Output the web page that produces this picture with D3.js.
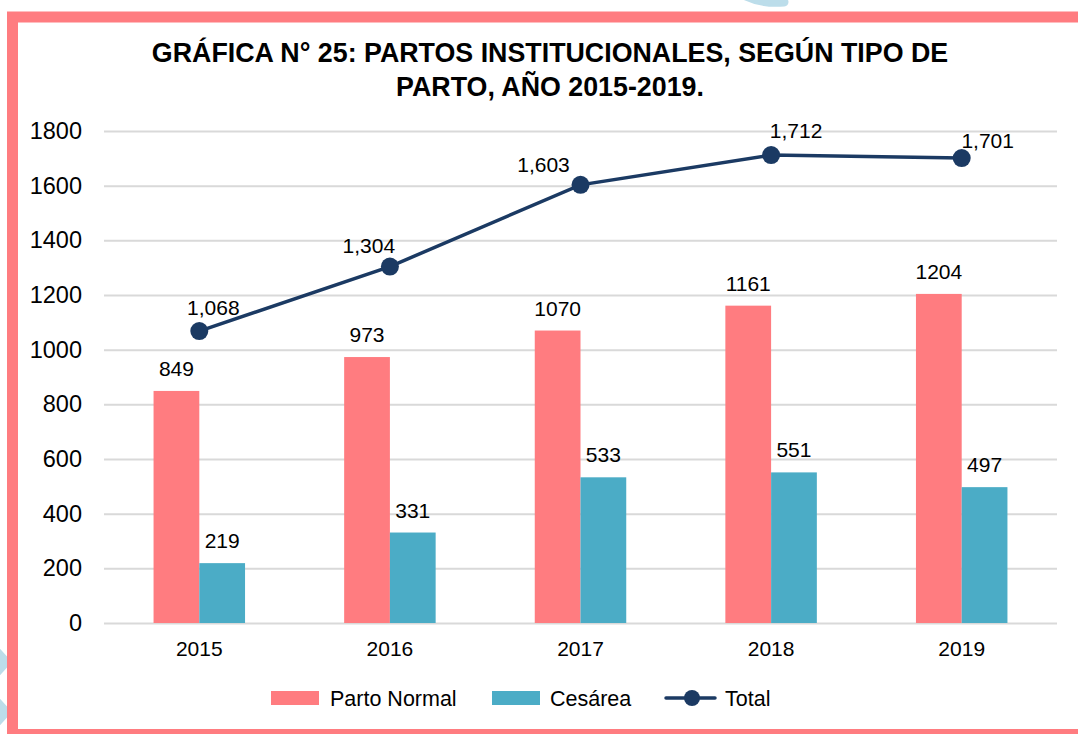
<!DOCTYPE html>
<html>
<head>
<meta charset="utf-8">
<script src="https://cdn.jsdelivr.net/npm/d3@7/dist/d3.min.js"></script>
<style>
  html, body { margin: 0; padding: 0; background: #fff; }
  svg { display: block; font-family: "Liberation Sans", Arial, sans-serif; }
</style>
</head>
<body>
<svg id="chart" width="1078" height="734"></svg>
<script>
// ---- data ----
const years = ["2015", "2016", "2017", "2018", "2019"];
const partoNormal = [849, 973, 1070, 1161, 1204];
const cesarea = [219, 331, 533, 551, 497];
const total = [1068, 1304, 1603, 1712, 1701];
const yTicks = [0, 200, 400, 600, 800, 1000, 1200, 1400, 1600, 1800];
const titleLines = ["GRÁFICA N° 25: PARTOS INSTITUCIONALES, SEGÚN TIPO DE", "PARTO, AÑO 2015-2019."];
const seriesNames = ["Parto Normal", "Cesárea", "Total"];

// ---- layout / style ----
const W = 1078, H = 734;
const colors = { normal: "#FF7C80", ces: "#4BACC6", total: "#1B3A63", grid: "#D9D9D9", border: "#FF7C80" };
const plot = { left: 104, right: 1057, top: 131, bottom: 623 };
const FF = "Liberation Sans, Arial, sans-serif";
// manual label placement for the Total series (dx, dy from point)
const totalLabelOffsets = [[14, -16], [-21, -14], [-37, -13], [25, -17], [26, -10]];

const svg = d3.select("#chart");

// faint watermark strokes outside the border
const wm = svg.append("g").attr("fill", "none").attr("stroke", "#BCDDEA").attr("stroke-width", 9).attr("stroke-linecap", "round");
wm.append("path").attr("d", "M -5 650 L 6 662 L -5 674");
wm.append("path").attr("d", "M -5 700 L 6 712 L -5 724");
wm.append("path").attr("d", "M 742 -6 Q 760 4 784 2");

// border
svg.append("rect")
  .attr("x", 12.5).attr("y", 17).attr("width", W + 20).attr("height", 717.5)
  .attr("fill", "#fff").attr("stroke", colors.border).attr("stroke-width", 11);

// title
const title = svg.append("text")
  .attr("text-anchor", "middle").attr("font-weight", "bold").attr("font-size", 26.8).attr("fill", "#000");
titleLines.forEach((t, i) => {
  title.append("tspan").attr("x", 550).attr("y", 62 + i * 34).text(t);
});

// scales
const x0 = d3.scaleBand().domain(years).range([plot.left, plot.right]).paddingInner(0.52).paddingOuter(0.26);
const x1 = d3.scaleBand().domain(["normal", "ces"]).range([0, x0.bandwidth()]);
const y = d3.scaleLinear().domain([0, 1800]).range([plot.bottom, plot.top]);

// gridlines
const yAxis = d3.axisLeft(y).tickValues(yTicks).tickSize(-(plot.right - plot.left)).tickPadding(22).tickFormat(d3.format("d"));
const gy = svg.append("g").attr("transform", `translate(${plot.left},0)`).call(yAxis);
gy.select(".domain").remove();
gy.selectAll(".tick line").attr("stroke", colors.grid).attr("stroke-width", 2);
gy.selectAll(".tick text").attr("font-size", 23.5).attr("fill", "#000").attr("font-family", FF);

// x axis labels
const xAxis = d3.axisBottom(x0).tickSize(0).tickPadding(18);
const gx = svg.append("g").attr("transform", `translate(0,${plot.bottom})`).call(xAxis);
gx.select(".domain").remove();
gx.selectAll(".tick text").attr("font-size", 21).attr("fill", "#000").attr("font-family", FF);

// bars
const groups = svg.append("g").selectAll("g").data(years).join("g")
  .attr("transform", d => `translate(${x0(d)},0)`);

groups.append("rect")
  .attr("x", x1("normal")).attr("width", x1.bandwidth())
  .attr("y", (d, i) => y(partoNormal[i])).attr("height", (d, i) => y(0) - y(partoNormal[i]))
  .attr("fill", colors.normal);
groups.append("rect")
  .attr("x", x1("ces")).attr("width", x1.bandwidth())
  .attr("y", (d, i) => y(cesarea[i])).attr("height", (d, i) => y(0) - y(cesarea[i]))
  .attr("fill", colors.ces);

groups.append("text")
  .attr("x", x1("normal") + x1.bandwidth() / 2).attr("y", (d, i) => y(partoNormal[i]) - 15)
  .attr("text-anchor", "middle").attr("font-size", 21).attr("fill", "#000")
  .text((d, i) => partoNormal[i]);
groups.append("text")
  .attr("x", x1("ces") + x1.bandwidth() / 2).attr("y", (d, i) => y(cesarea[i]) - 15)
  .attr("text-anchor", "middle").attr("font-size", 21).attr("fill", "#000")
  .text((d, i) => cesarea[i]);

// total line
const cx = d => x0(d) + x0.bandwidth() / 2;
const line = d3.line().x((d, i) => cx(years[i])).y(d => y(d));
svg.append("path").datum(total).attr("d", line)
  .attr("fill", "none").attr("stroke", colors.total).attr("stroke-width", 3.5);
svg.append("g").selectAll("circle").data(total).join("circle")
  .attr("cx", (d, i) => cx(years[i])).attr("cy", d => y(d)).attr("r", 9)
  .attr("fill", colors.total);
svg.append("g").selectAll("text").data(total).join("text")
  .attr("x", (d, i) => cx(years[i]) + totalLabelOffsets[i][0])
  .attr("y", (d, i) => y(d) + totalLabelOffsets[i][1])
  .attr("text-anchor", "middle").attr("font-size", 21).attr("fill", "#000")
  .text(d => d3.format(",")(d));

// legend
const lg = svg.append("g");
lg.append("rect").attr("x", 271).attr("y", 691).attr("width", 48).attr("height", 14).attr("fill", colors.normal);
lg.append("text").attr("x", 330).attr("y", 706).attr("font-size", 21.5).text(seriesNames[0]);
lg.append("rect").attr("x", 492).attr("y", 691).attr("width", 48).attr("height", 14).attr("fill", colors.ces);
lg.append("text").attr("x", 550).attr("y", 706).attr("font-size", 21.5).text(seriesNames[1]);
lg.append("line").attr("x1", 666).attr("x2", 715).attr("y1", 698).attr("y2", 698)
  .attr("stroke", colors.total).attr("stroke-width", 3.5).attr("stroke-linecap", "round");
lg.append("circle").attr("cx", 692).attr("cy", 698).attr("r", 8).attr("fill", colors.total);
lg.append("text").attr("x", 725).attr("y", 706).attr("font-size", 21.5).text(seriesNames[2]);
</script>
</body>
</html>
